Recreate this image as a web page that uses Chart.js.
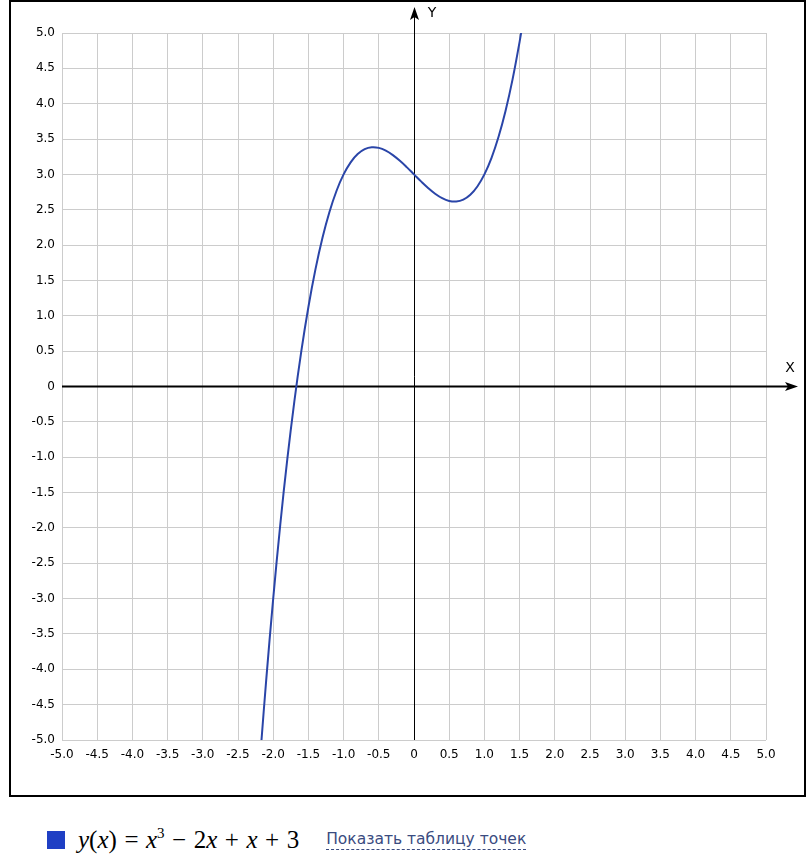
<!DOCTYPE html>
<html>
<head>
<meta charset="utf-8">
<script src="https://cdn.jsdelivr.net/npm/chart.js@4"></script>
<style>
  body { margin: 0; background: #fff; width: 811px; height: 861px; position: relative; overflow: hidden; }
  #frame { position: absolute; left: 9px; top: 0; width: 797px; height: 797px; border: 2px solid #000; box-sizing: border-box; }
  #graph { position: absolute; left: 0; top: 0; }
  #legend { position: absolute; left: 47px; top: 822px; height: 36px; display: flex; align-items: center; white-space: nowrap; }
  .box { width: 18px; height: 18px; background: #1f3fc4; margin-right: 13px; }
  .formula { font-family: "Liberation Serif", "DejaVu Serif", serif; font-size: 25px; color: #000; }
  .formula i { font-style: italic; }
  .formula .op { margin: 0 0.3em; }
  .formula sup { font-size: 15px; vertical-align: 10px; line-height: 0; }
  .link { margin-left: 27px; font-family: "DejaVu Sans", sans-serif; font-size: 15.5px; color: #3a4b80; border-bottom: 1px dashed #3a4b80; line-height: 18px; padding-bottom: 1px; }
</style>
</head>
<body>
<div id="frame"></div>
<canvas id="graph" width="811" height="800"></canvas>
<div id="legend">
  <div class="box"></div>
  <span class="formula"><i>y</i>(<i>x</i>)<span class="op">=</span><i>x</i><sup>3</sup><span class="op">−</span>2<i>x</i><span class="op">+</span><i>x</i><span class="op">+</span>3</span>
  <span class="link">Показать таблицу точек</span>
</div>
<script>
// points of the curve
const xValues = [-2.17, -2.1, -2.0, -1.9, -1.8, -1.7, -1.6, -1.5, -1.4, -1.3, -1.2, -1.1, -1.0,
  -0.9, -0.8, -0.7, -0.6, -0.5, -0.4, -0.3, -0.2, -0.1, 0, 0.1, 0.2, 0.3, 0.4, 0.5, 0.6,
  0.7, 0.8, 0.9, 1.0, 1.1, 1.2, 1.3, 1.4, 1.5, 1.53];
const yValues = [-5.048, -4.161, -3.0, -1.959, -1.032, -0.213, 0.504, 1.125, 1.656, 2.103, 2.472, 2.769, 3.0,
  3.171, 3.288, 3.357, 3.384, 3.375, 3.336, 3.273, 3.192, 3.099, 3.0, 2.901, 2.808, 2.727, 2.664, 2.625, 2.616,
  2.643, 2.712, 2.829, 3.0, 3.231, 3.528, 3.897, 4.344, 4.875, 5.052];

const axisMin = -5;
const axisMax = 5;
const tickStep = 0.5;

const points = xValues.map((x, i) => ({ x: x, y: yValues[i] }));

const fmtTick = v => (Math.abs(v) < 1e-9 ? '0' : v.toFixed(1));

// draws the black X/Y axes with arrows through zero
const axesPlugin = {
  id: 'axes',
  beforeDatasetsDraw(chart) {
    const ctx = chart.ctx;
    const area = chart.chartArea;
    const x0 = chart.scales.x.getPixelForValue(0);
    const y0 = chart.scales.y.getPixelForValue(0);
    ctx.save();
    ctx.strokeStyle = '#000';
    ctx.fillStyle = '#000';

    // x axis
    const xEnd = area.right + 32;
    ctx.lineWidth = 2;
    ctx.beginPath();
    ctx.moveTo(area.left, y0);
    ctx.lineTo(xEnd - 6, y0);
    ctx.stroke();
    ctx.beginPath();
    ctx.moveTo(xEnd, y0);
    ctx.lineTo(xEnd - 13, y0 - 4.5);
    ctx.lineTo(xEnd - 10, y0);
    ctx.lineTo(xEnd - 13, y0 + 4.5);
    ctx.closePath();
    ctx.fill();

    // y axis
    const yEnd = area.top - 26;
    ctx.lineWidth = 1;
    ctx.beginPath();
    ctx.moveTo(Math.round(x0) + 0.5, area.bottom);
    ctx.lineTo(Math.round(x0) + 0.5, yEnd + 6);
    ctx.stroke();
    ctx.beginPath();
    ctx.moveTo(x0 + 0.5, yEnd);
    ctx.lineTo(x0 - 4, yEnd + 13);
    ctx.lineTo(x0 + 0.5, yEnd + 10);
    ctx.lineTo(x0 + 5, yEnd + 13);
    ctx.closePath();
    ctx.fill();

    ctx.font = '14px "DejaVu Sans", sans-serif';
    ctx.textAlign = 'center';
    ctx.textBaseline = 'middle';
    ctx.fillText('X', xEnd - 8, y0 - 18);
    ctx.fillText('Y', x0 + 18, yEnd + 6);
    ctx.restore();
  }
};

new Chart(document.getElementById('graph'), {
  type: 'scatter',
  data: {
    datasets: [{
      label: 'y(x) = x³ − 2x + x + 3',
      data: points,
      showLine: true,
      borderColor: '#2a45a8',
      backgroundColor: '#2a45a8',
      borderWidth: 2,
      pointRadius: 0,
      tension: 0.4
    }]
  },
  options: {
    responsive: false,
    animation: false,
    devicePixelRatio: 1,
    layout: { padding: { top: 33, left: 12, right: 45, bottom: 30 } },
    plugins: { legend: { display: false }, tooltip: { enabled: false } },
    scales: {
      x: {
        type: 'linear',
        min: axisMin,
        max: axisMax,
        afterFit: s => { s.height = 30; },
        grid: { color: '#cccccc', lineWidth: 1, drawTicks: false },
        border: { display: false },
        ticks: {
          stepSize: tickStep,
          autoSkip: false,
          maxRotation: 0,
          padding: 8,
          color: '#000',
          font: { family: '"DejaVu Sans", sans-serif', size: 12 },
          callback: fmtTick
        }
      },
      y: {
        type: 'linear',
        min: axisMin,
        max: axisMax,
        afterFit: s => { s.width = 50; },
        grid: { color: '#cccccc', lineWidth: 1, drawTicks: false },
        border: { display: false },
        ticks: {
          stepSize: tickStep,
          autoSkip: false,
          padding: 7,
          color: '#000',
          font: { family: '"DejaVu Sans", sans-serif', size: 12 },
          callback: fmtTick
        }
      }
    }
  },
  plugins: [axesPlugin]
});
</script>
</body>
</html>
